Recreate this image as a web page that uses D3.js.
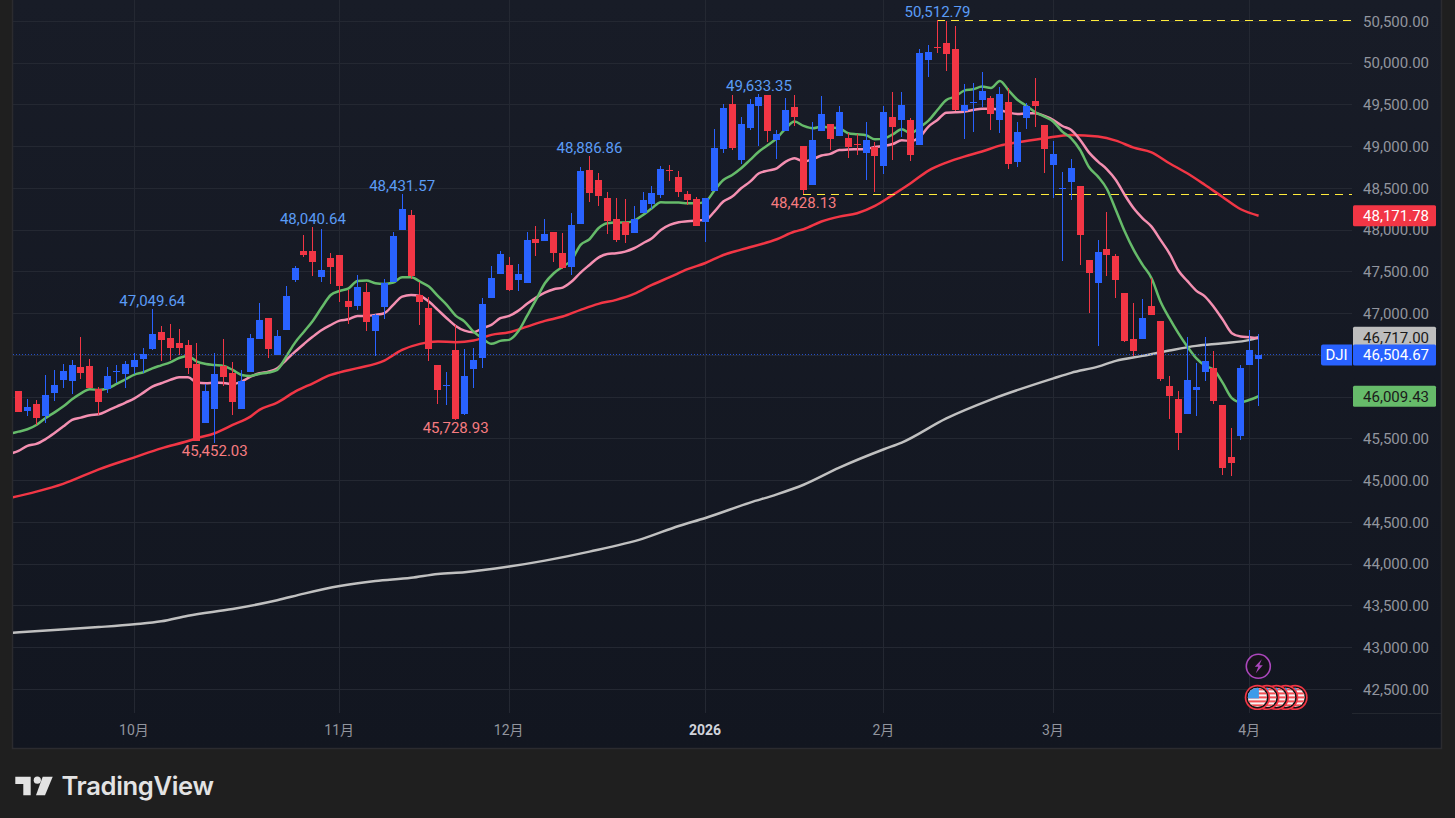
<!DOCTYPE html>
<html>
<head>
<meta charset="utf-8">
<title>DJI</title>
<script src="https://cdn.jsdelivr.net/npm/d3@7"></script>
<style>
  html, body { margin: 0; padding: 0; background: #1f1f1f; overflow: hidden; }
  text { font-family: Roboto, sans-serif; font-size: 15px; }
</style>
</head>
<body>
<svg id="chart" width="1455" height="818"></svg>
<script>
// Daily candles
const opens = [
  46073,45834,45918,45774,46049,46205,46193,46360,46372,46097,
  46097,46301,46277,46360,46456,46576,46779,46708,46648,46624,
  46396,45690,45858,46372,46289,45858,46301,46696,46947,46500,
  46803,47402,47749,47749,47438,47665,47701,47152,47092,47259,
  46792,47080,47379,48001,48181,47223,47068,46385,46138,46565,
  45799,46338,46469,47187,47475,47582,47403,47367,47894,47870,
  47977,47726,47559,48073,48720,48600,48384,48133,48097,47965,
  48205,48313,48420,48720,48636,48433,48373,48098,48469,48971,
  49510,48840,49223,49486,49618,49079,49187,49474,49007,48541,
  49187,49271,49127,49103,49027,48924,48995,48768,49355,49319,
  49319,49019,50037,50188,50240,50168,49426,49526,49558,49582,
  49319,49534,48815,49342,49546,49258,48780,48492,48576,48528,
  47642,47367,47774,47690,47247,46697,46697,47092,46912,46134,
  45979,45799,46086,46302,46350,45907,45284,45536,46386,46457];
const highs = [
  46073,45977,45965,46265,46325,46396,46444,46720,46456,46121,
  46360,46384,46432,46528,46588,47049.64,46851,46875,46815,46684,
  46648,46157,46528,46696,46420,46325,46755,47126,46947,46803,
  47330,47569,47940,48040.64,48012,47725,47701,47283,47463,47367,
  46996,47415,47977,48431.57,48241,47379,47199,46385,46302,46864,
  46577,46589,47187,47570,47750,47678,47594,47977,48049,48133,
  47977,47965,48205,48756,48886.86,48684,48456,48384,48372,48289,
  48456,48528,48768,48779,48708,48469,48397,48385,49211,49510,
  49618,49355,49570,49633.35,49618,49199,49582,49618,49007,49295,
  49606,49271,49486,49163,49151,49295,49055,49486,49654,49654,
  49343,50170,50216,50512.79,50504,50444,49749,49761,49893,49606,
  49714,49701,49294,49522,49821,49258,49067,48696,48851,48528,
  47642,47882,48217,47714,47247,47128,47176,47427,46912,46254,
  46074,46721,46410,46721,46553,45907,45631,46386,46805,46757];
const lows = [
  45826,45774,45666,45694,45953,46109,46037,46217,46109,45786,
  46049,46169,46109,46277,46289,46564,46432,46444,46504,46277,
  45475,45690,45452.03,46133,45786,45858,46301,46696,46468,46500,
  46803,47378,47677,47450,47378,47354,47138,46876,47044,46792,
  46493,46936,47379,48001,47415,46864,46433,45919,45907,45728.93,
  45787,46110,46350,47187,47475,47271,47271,47367,47690,47870,
  47618,47535,47463,48073,48337,48289,47954,47858,47846,47965,
  48205,48253,48384,48588,48396,48301,48050,47858,48469,48924,
  48959,48792,49199,49007,49055,48852,49187,49247,48428.13,48541,
  49187,48959,49127,48864,48900,48600,48457,48672,48840,49115,
  48828,49019,49833,50121,49905,49426,49091,49175,49474,49199,
  49163,48732,48756,49211,49234,48684,48385,47630,48361,47583,
  47008,46613,47451,47188,46661,46493,46697,46984,46194,45739,
  45368,45799,45775,46194,45919,45069,45057,45488,46386,45895];
const closes = [
  45826,45882,45750,46025,46145,46313,46384,46289,46109,45941,
  46253,46309,46396,46444,46516,46755,46684,46588,46588,46348,
  45475,46073,46277,46241,45941,46193,46708,46923,46576,46732,
  47210,47545,47701,47617,47521,47557,47330,47080,47319,46900,
  46984,47367,47930,48253,47451,47140,46577,46086,46146,45739,
  46254,46445,47116,47427,47714,47283,47475,47882,47846,47954,
  47726,47547,48061,48708,48444,48408,48109,47882,47942,48133,
  48360,48444,48732,48712,48456,48361,48050,48385,48983,49462,
  48983,49271,49510,49594,49187,49151,49438,49355,48481,49079,
  49390,49091,49414,48995,49019,49079,48888,49414,49235,49498,
  48900,50121,50133,50180,50109,49438,49498,49534,49666,49390,
  49630,48792,49175,49486,49486,48971,48911,48504,48744,47942,
  47487,47738,47702,47403,46673,46553,46948,46984,46218,46015,
  45572,46206,46122,46433,45955,45153,45213,46350,46565,46504.67];

// Moving averages. Green and pink have a value per candle, starting one candle before the first
const greenMa = [
  45558,45586,45614,45666,45746,45814,45886,45973,46045,46093,46085,
  46105,46157,46213,46269,46297,46344,46380,46416,46468,46492,
  46424,46396,46384,46372,46325,46265,46253,46277,46293,46325,
  46484,46652,46783,46915,47075,47222,47270,47302,47391,47395,
  47363,47355,47371,47435,47435,47383,47323,47211,47104,46976,
  46904,46784,46705,46637,46673,46685,46784,46972,47163,47363,
  47483,47562,47642,47822,47890,48021,48081,48089,48089,48113,
  48181,48261,48333,48329,48329,48321,48321,48341,48473,48600,
  48660,48740,48840,48940,49019,49099,49219,49299,49247,49219,
  49239,49227,49219,49159,49147,49135,49087,49095,49147,49207,
  49159,49231,49311,49438,49558,49598,49670,49686,49718,49702,
  49785,49670,49558,49486,49410,49358,49298,49179,49099,48959,
  48752,48640,48492,48241,47982,47762,47583,47423,47144,46944,
  46765,46605,46465,46374,46326,46166,45987,45939,45967,46009.43];
const pinkMa = [
  45319,45355,45415,45439,45494,45566,45646,45726,45754,45782,45794,
  45838,45886,45934,45985,46053,46125,46165,46205,46237,46237,
  46173,46165,46173,46169,46157,46185,46245,46285,46305,46344,
  46444,46544,46636,46724,46803,46863,46915,46931,46972,46972,
  46984,47004,47104,47203,47223,47211,47143,47044,46944,46852,
  46796,46776,46824,46864,46944,46972,47032,47116,47191,47251,
  47291,47311,47383,47491,47582,47670,47714,47722,47742,47782,
  47842,47902,48001,48061,48093,48105,48114,48122,48221,48341,
  48401,48501,48580,48680,48712,48740,48820,48860,48820,48848,
  48892,48912,48959,48964,48968,48972,48995,49007,49031,49075,
  49067,49111,49239,49319,49406,49410,49418,49438,49454,49454,
  49438,49406,49390,49398,49398,49366,49318,49246,49198,49079,
  48927,48820,48728,48600,48420,48261,48141,48041,47882,47722,
  47515,47391,47275,47203,47076,46924,46765,46725,46717,46705];
// The two slow ones were read at fewer candles
const redIdx = [-1,2,5,9,13,16,19,20,22,24,26,27,29,31,33,35,36,38,41,43,45,47,49,51,53,55,57,59,61,63,65,67,69,71,73,75,77,79,81,85,87,88,90,92,94,96,98,100,102,104,106,108,110,112,115,118,121,123,125,127,129,131,133,135,137,139];
const redMa = [44790,44867,44960,45134,45278,45385,45473,45507,45566,45666,45766,45846,45934,46065,46165,46265,46296,46346,46437,46565,46637,46665,46657,46677,46745,46776,46844,46912,46964,47044,47116,47164,47235,47343,47435,47531,47605,47701,47765,47890,47982,48010,48102,48161,48201,48289,48421,48560,48712,48808,48880,48940,49011,49051,49099,49139,49119,49071,48987,48931,48800,48680,48540,48393,48249,48171.78];
const grayIdx = [-1,4,9,13,16,19,24,29,32,36,40,44,47,50,55,59,64,70,74,77,82,85,88,92,97,99,104,109,116,118,121,123,126,129,132,135,138,139];
const grayMa = [43176,43209,43245,43279,43314,43382,43462,43566,43646,43737,43797,43835,43882,43902,43970,44041,44149,44305,44456,44552,44736,44835,44950,45155,45375,45455,45745,45970,46224,46290,46364,46433,46493,46557,46613,46645,46685,46717];

// Axis ticks
const priceTicks = [50500,50000,49500,49000,48500,48000,47500,47000,46500,46000,45500,45000,44500,44000,43500,43000,42500];
const timeTickIdx = [13,36,55,77,97,116,138];
const timeTickLabels = ["10月","11月","12月","2026","2月","3月","4月"];

// High / low callouts on the candles
const highLabelIdx = [15,33,43,64,83,103];
const lowLabelIdx = [22,49,88];
// Horizontal levels
const levelStartIdx = [103,88];
const levelValues = [50512.79,48428.13];
// Price tags on the right edge
const tagValues = [48171.78,46717,46504.67,46009.43];
const tagTexts = ["48,171.78","46,717.00","46,504.67","46,009.43"];
const tagFills = ["#f23645","#bdbdbd","#2962ff","#66bb6a"];
const tagInks = ["#ffffff","#1a1a1a","#ffffff","#1a1a1a"];

const blue = "#2962ff", red = "#f23645";
const paneLeft = 13, paneRight = 1352, paneBottom = 713, frameRight = 1441, frameBottom = 748;

const svg = d3.select("#chart");
const fmt = d3.format(",.2f");

const x = d3.scaleLinear().domain([0, 139]).range([18.5, 1258.6]);
const y = d3.scaleLinear().domain([42500, 50500]).range([689.3, 21.3]);

/* Dark panel, frame and clip area */
function drawFrame() {
  var defs = svg.append("defs");
  var grad = defs.append("linearGradient").attr("id", "paneFill")
    .attr("x1", 0).attr("x2", 0).attr("y1", 0).attr("y2", 1);
  grad.append("stop").attr("offset", 0).attr("stop-color", "#181c27");
  grad.append("stop").attr("offset", 1).attr("stop-color", "#121620");
  defs.append("clipPath").attr("id", "paneClip").append("rect")
    .attr("x", paneLeft).attr("y", 0).attr("width", paneRight - paneLeft).attr("height", paneBottom);

  svg.append("rect").attr("x", paneLeft).attr("y", 0)
    .attr("width", frameRight - paneLeft).attr("height", frameBottom)
    .attr("fill", "url(#paneFill)");
  svg.append("path")
    .attr("d", "M" + (paneLeft - 0.5) + ",0V" + (frameBottom + 0.5) + "H" + (frameRight + 0.5) + "V0")
    .attr("fill", "none").attr("stroke", "#2b2b2f").attr("stroke-width", 1.5);
  svg.append("line").attr("x1", paneRight).attr("x2", frameRight)
    .attr("y1", paneBottom + 0.5).attr("y2", paneBottom + 0.5).attr("stroke", "#23272f");
}

/* Grid lines and both axes */
function drawAxes() {
  var grid = svg.append("g").attr("shape-rendering", "crispEdges");
  grid.selectAll(".h").data(priceTicks).enter().append("line")
    .attr("x1", paneLeft).attr("x2", paneRight)
    .attr("y1", function(d) { return Math.floor(y(d)) + 0.5; })
    .attr("y2", function(d) { return Math.floor(y(d)) + 0.5; })
    .attr("stroke", "#242832");
  grid.selectAll(".v").data(timeTickIdx).enter().append("line")
    .attr("y1", 0).attr("y2", paneBottom)
    .attr("x1", function(d) { return Math.floor(x(d)) + 0.5; })
    .attr("x2", function(d) { return Math.floor(x(d)) + 0.5; })
    .attr("stroke", "#242832");

  var priceAxis = d3.axisRight(y).tickValues(priceTicks).tickSize(0).tickFormat(fmt);
  var gy = svg.append("g").attr("transform", "translate(1429,0)").call(priceAxis);
  gy.select(".domain").remove();
  gy.selectAll("text").attr("x", 0).attr("text-anchor", "end")
    .attr("fill", "#92959e").style("font-size", "15px").style("font-family", "Roboto, sans-serif");

  var timeAxis = d3.axisBottom(x).tickValues(timeTickIdx).tickSize(0)
    .tickFormat(function(d, i) { return timeTickLabels[i]; });
  var gx = svg.append("g").attr("transform", "translate(-1,722)").call(timeAxis);
  gx.select(".domain").remove();
  gx.selectAll("text").attr("y", 3)
    .attr("fill", function(d, i) { return timeTickLabels[i] == "2026" ? "#d1d4dc" : "#92959e"; })
    .style("font-weight", function(d, i) { return timeTickLabels[i] == "2026" ? "700" : "400"; })
    .style("font-size", "14px")
    .style("font-family", '"Roboto", "Noto Sans CJK JP", sans-serif');
}

function drawMa(idx, values, color) {
  var line = d3.line()
    .x(function(d, i) { return x(idx[i]); })
    .y(function(d) { return y(d); })
    .curve(d3.curveMonotoneX);
  svg.append("path").datum(values)
    .attr("clip-path", "url(#paneClip)")
    .attr("d", line).attr("fill", "none")
    .attr("stroke", color).attr("stroke-width", 2.5)
    .attr("stroke-linejoin", "round");
}

function drawLines() {
  var perCandle = d3.range(-1, 140);
  drawMa(grayIdx, grayMa, "#c0c0c0");
  drawMa(redIdx, redMa, red);
  drawMa(perCandle, pinkMa, "#f48fb1");
  drawMa(perCandle, greenMa, "#66bb6a");
}

/* Last price and the two dashed levels */
function drawLevels() {
  var lastY = Math.floor(y(closes[139])) + 0.5;
  svg.append("line").attr("x1", paneLeft).attr("x2", 1321)
    .attr("y1", lastY).attr("y2", lastY)
    .attr("stroke", blue).attr("stroke-opacity", 0.75).attr("stroke-dasharray", "1 2");
  svg.selectAll(".level").data(levelValues).enter().append("line")
    .attr("x1", function(d, i) { return Math.floor(x(levelStartIdx[i])); })
    .attr("x2", paneRight)
    .attr("y1", function(d) { return Math.floor(y(d)) + 0.5; })
    .attr("y2", function(d) { return Math.floor(y(d)) + 0.5; })
    .attr("stroke", "#ffeb3b").attr("stroke-dasharray", "8 6");
}

function drawCandles() {
  var g = svg.append("g").attr("shape-rendering", "crispEdges").attr("clip-path", "url(#paneClip)");
  var idx = d3.range(opens.length);
  var colorOf = function(i) { return closes[i] >= opens[i] ? blue : red; };
  g.selectAll(".wick").data(idx).enter().append("rect")
    .attr("x", function(i) { return Math.floor(x(i)); })
    .attr("width", 1)
    .attr("y", function(i) { return Math.round(y(highs[i])); })
    .attr("height", function(i) { return Math.max(1, Math.round(y(lows[i])) - Math.round(y(highs[i]))); })
    .attr("fill", colorOf);
  g.selectAll(".body").data(idx).enter().append("rect")
    .attr("x", function(i) { return Math.floor(x(i)) - 3; })
    .attr("width", 7)
    .attr("y", function(i) { return Math.round(y(Math.max(opens[i], closes[i]))); })
    .attr("height", function(i) {
      return Math.max(1, Math.round(y(Math.min(opens[i], closes[i]))) - Math.round(y(Math.max(opens[i], closes[i]))));
    })
    .attr("fill", colorOf);
}

function drawCallouts() {
  svg.selectAll(".hi").data(highLabelIdx).enter().append("text")
    .attr("x", function(i) { return x(i); })
    .attr("y", function(i) { return y(highs[i]) - 3; })
    .attr("text-anchor", "middle").attr("fill", "#5b9cf6")
    .text(function(i) { return fmt(highs[i]); });
  svg.selectAll(".lo").data(lowLabelIdx).enter().append("text")
    .attr("x", function(i) { return x(i); })
    .attr("y", function(i) { return y(lows[i]) + 13.5; })
    .attr("text-anchor", "middle").attr("fill", "#f77c80")
    .text(function(i) { return fmt(lows[i]); });
}

/* Coloured tags on the price axis */
function drawTags() {
  var g = svg.append("g");
  // symbol tag sits left of the last price
  var lastY = y(closes[139]);
  g.append("path").attr("d", "M1323," + (lastY - 10.5) + "H1352V" + (lastY + 10.5) + "H1323a2,2 0 0 1 -2,-2V" + (lastY - 8.5) + "a2,2 0 0 1 2,-2z")
    .attr("fill", blue);
  g.append("text").attr("x", 1336.5).attr("y", lastY + 5.5).attr("text-anchor", "middle")
    .attr("fill", "#fff").text("DJI");
  var tag = g.selectAll(".tag").data(tagValues).enter().append("g");
  tag.append("rect").attr("x", 1353).attr("width", 83).attr("height", 21).attr("rx", 1.5)
    .attr("y", function(d) { return y(d) - 10.5; })
    .attr("fill", function(d, i) { return tagFills[i]; });
  tag.append("text").attr("x", 1429).attr("text-anchor", "end")
    .attr("y", function(d) { return y(d) + 5.5; })
    .attr("fill", function(d, i) { return tagInks[i]; })
    .text(function(d, i) { return tagTexts[i]; });
}

/* Event markers near the last candles */
function drawMarkers() {
  var bx = 1258.3, by = 666.3;
  svg.append("circle").attr("cx", bx).attr("cy", by).attr("r", 12)
    .attr("fill", "#15131a").attr("stroke", "#ab47bc").attr("stroke-width", 1.6);
  svg.append("path")
    .attr("d", "M" + (bx + 3.5) + "," + (by - 7) + "l-7,7.5h3.5l-2.5,6.5l7,-8h-3.5z")
    .attr("fill", "#ab47bc");

  var flagX = [1295, 1285.6, 1276.2, 1266.8, 1257.4];
  var fy = 697.4, defs = svg.select("defs");
  var flags = svg.selectAll(".flag").data(flagX).enter().append("g")
    .attr("transform", function(d) { return "translate(" + d + "," + fy + ")"; });
  flags.append("circle").attr("r", 12.7).attr("fill", "#f23645");
  flags.append("circle").attr("r", 11).attr("fill", "#131313");
  defs.append("clipPath").attr("id", "flagClip").append("circle").attr("r", 9.6);
  var inner = flags.append("g").attr("clip-path", "url(#flagClip)");
  inner.append("rect").attr("x", -10).attr("y", -10).attr("width", 20).attr("height", 20).attr("fill", "#f5f5f5");
  inner.selectAll(".st").data(d3.range(5)).enter().append("rect")
    .attr("x", -10).attr("width", 20).attr("height", 2)
    .attr("y", function(d) { return -9 + d * 4; })
    .attr("fill", "#f44e54");
  inner.append("rect").attr("x", -10).attr("y", -10).attr("width", 11.5).attr("height", 11).attr("fill", "#3d9be9");
}

function drawLogo() {
  var g = svg.append("g").attr("fill", "#e3e3e3");
  g.append("path").attr("d", "M15.3,776.7H30.7V795.3H23.3V784H15.3z");
  g.append("circle").attr("cx", 37.3).attr("cy", 780.2).attr("r", 3.6);
  g.append("path").attr("d", "M42.7,776.7H52.7L45,795.3H36z");
  g.append("text").attr("x", 61.5).attr("y", 795.3)
    .style("font-family", "Inter, sans-serif").style("font-size", "25.6px").style("font-weight", "600")
    .style("letter-spacing", "-0.35px")
    .text("TradingView");
}

drawFrame();
drawAxes();
drawLines();
drawLevels();
drawCandles();
drawCallouts();
drawTags();
drawMarkers();
drawLogo();
</script>
</body>
</html>
